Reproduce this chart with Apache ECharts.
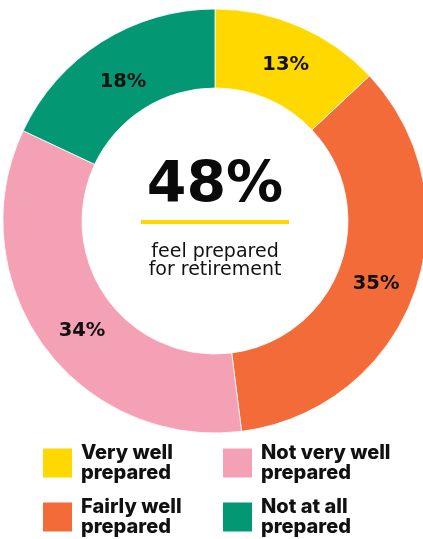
<!DOCTYPE html>
<html>
<head>
<meta charset="utf-8">
<style>
  html, body { margin: 0; padding: 0; background: #fff; }
  #chart { width: 423px; height: 539px; }
</style>
<script src="https://cdn.jsdelivr.net/npm/echarts@6/dist/echarts.min.js"></script>
</head>
<body>
<div id="chart"></div>
<script>
// Share of respondents by how prepared they feel for retirement
const categories = ['Very well prepared', 'Fairly well prepared', 'Not very well prepared', 'Not at all prepared'];
const values = [13, 35, 34, 18];
const colors = ['#FFD800', '#F26B38', '#F4A0B5', '#039873'];
const headline = '48%';
const subtitle = ['feel prepared', 'for retirement'];

// small nudges for the in-ring percentage labels
const labelNudge = [[1, 5], [-4, 3], [9, 7], [2, 9]];

const FONT = 'Inter, "Noto Sans", sans-serif';
const WIDE = '"DejaVu Sans", sans-serif';
const chart = echarts.init(document.getElementById('chart'), null, { renderer: 'canvas' });

const legendText = name => name.replace(/ prepared$/, '\nprepared');

const legendBase = {
  orient: 'vertical',
  top: 443,
  height: 200,
  padding: 0,
  itemWidth: 29,
  itemHeight: 29,
  itemGap: 14,
  icon: 'rect',
  selectedMode: false,
  formatter: legendText,
  itemStyle: { borderWidth: 0 },
  textStyle: {
    fontFamily: FONT,
    fontSize: 20,
    fontWeight: 800,
    lineHeight: 20,
    color: '#111',
    padding: [0, 0, 0, 4]
  }
};

chart.setOption({
  animation: false,
  color: colors,
  legend: [
    Object.assign({}, legendBase, { left: 43, data: [categories[0], categories[1]] }),
    Object.assign({}, legendBase, { left: 223, data: [categories[2], categories[3]] })
  ],
  graphic: [
    {
      type: 'text',
      style: {
        text: headline,
        x: 215, y: 187,
        align: 'center', verticalAlign: 'middle',
        fontFamily: WIDE, fontSize: 57, fontWeight: 700,
        fill: '#0a0a0a'
      }
    },
    {
      type: 'rect',
      shape: { x: 141, y: 220, width: 148, height: 4 },
      style: { fill: '#FFD800' }
    },
    {
      type: 'text',
      style: {
        text: subtitle.join('\n'),
        x: 215, y: 261,
        align: 'center', verticalAlign: 'middle',
        fontFamily: WIDE, fontSize: 19, fontWeight: 400,
        lineHeight: 18.5,
        fill: '#111'
      }
    }
  ],
  series: [{
    type: 'pie',
    center: [215, 221],
    radius: [133, 212],
    startAngle: 90,
    clockwise: true,
    avoidLabelOverlap: false,
    itemStyle: { borderColor: '#fff', borderWidth: 0.8 },
    label: {
      show: true,
      position: 'inside',
      formatter: '{c}%',
      fontFamily: WIDE,
      fontSize: 19.5,
      fontWeight: 700,
      color: '#111'
    },
    labelLine: { show: false },
    emphasis: { disabled: true },
    data: categories.map((name, i) => ({
      name,
      value: values[i],
      label: { offset: labelNudge[i] }
    }))
  }]
});
</script>
</body>
</html>
